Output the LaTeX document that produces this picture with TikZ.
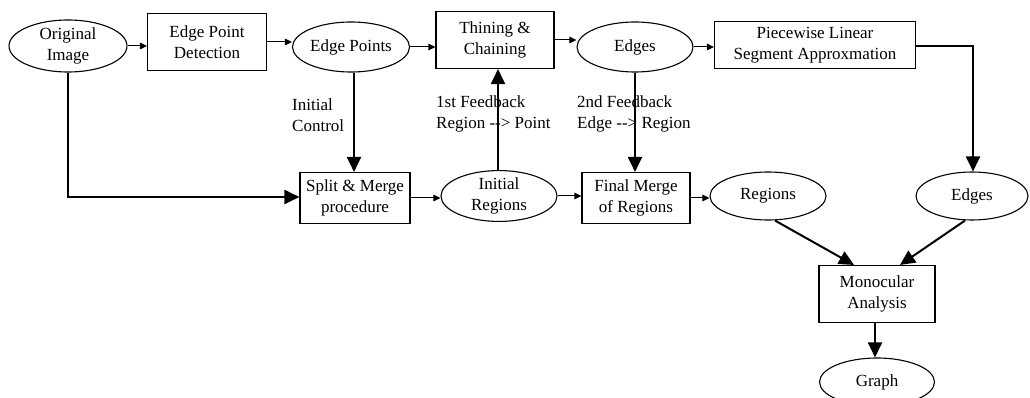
\documentclass[tikz,border=0pt]{standalone}
\usepackage{fontspec}
\setmainfont{Liberation Serif}
\usetikzlibrary{shapes.geometric,arrows.meta}
\tikzset{
  base/.style={draw, line width=1.1pt, inner sep=0pt, align=center,
    font=\fontsize{17}{20.5}\selectfont},
  proc/.style={base, rectangle},
  data/.style={base, ellipse},
  thinarrow/.style={line width=1pt, -{Triangle[length=7pt,width=6.5pt]}},
  thickarrow/.style={line width=2pt, -{Triangle[length=15pt,width=14pt]}},
  note/.style={anchor=west, align=left, inner sep=0pt,
    font=\fontsize{17}{20.5}\selectfont},
}
\begin{document}
\begin{tikzpicture}[x=1pt,y=-1pt]
\useasboundingbox (0,0) rectangle (1030,398);
\clip (0,0) rectangle (1030,398);

% top row
\node[data, minimum width=118pt, minimum height=52pt] (orig) at (68,46) {Original\\Image};
\node[proc, minimum width=119pt, minimum height=57pt] (epd) at (207,42) {Edge Point\\Detection};
\node[data, minimum width=117pt, minimum height=50pt] (ep) at (351,47) {Edge Points};
\node[proc, minimum width=118pt, minimum height=57pt] (thin) at (495,40) {Thining \&\\Chaining};
\node[data, minimum width=116pt, minimum height=50pt] (e1) at (635,47) {Edges};
\node[proc, minimum width=201pt, minimum height=47pt] (pw) at (815,45) {Piecewise Linear\\Segment Approxmation};

% middle row
\node[proc, minimum width=110pt, minimum height=51pt] (split) at (355,198) {Split \& Merge\\procedure};
\node[data, minimum width=116pt, minimum height=48pt] (ir) at (499,196) {Initial\\Regions};
\node[proc, minimum width=108pt, minimum height=51pt] (fm) at (636,198) {Final Merge\\of Regions};
\node[data, minimum width=116pt, minimum height=48pt] (reg) at (768,196) {Regions};
\node[data, minimum width=112pt, minimum height=48pt] (e2) at (972,196) {Edges};

% bottom
\node[proc, minimum width=116pt, minimum height=57pt] (mono) at (877,294) {Monocular\\Analysis};
\node[data, minimum width=115pt, minimum height=48pt] (graph) at (877,382) {Graph};

% side notes
\node[note] (n1) at (292,115) {Initial\\Control};
\node[note] (n2) at (436,114) {1st Feedback\\Region {-}{-}> Point};
\node[note] (n3) at (577,114) {2nd Feedback\\Edge {-}{-}> Region};

% thin flow arrows
\draw[thinarrow] (orig.east) -- (orig.east -| epd.west);
\draw[thinarrow] (epd.east) -- (epd.east -| ep.west);
\draw[thinarrow] (ep.east) -- (ep.east -| thin.west);
\draw[thinarrow] (thin.east) -- (thin.east -| e1.west);
\draw[thinarrow] (e1.east) -- (e1.east -| pw.west);
\draw[thinarrow] (split.east) -- (split.east -| ir.west);
\draw[thinarrow] (ir.east) -- (ir.east -| fm.west);
\draw[thinarrow] (fm.east) -- (fm.east -| reg.west);

% thick control arrows
\draw[thickarrow] (orig.south) |- ([yshift=1pt]split.west);
\draw[thickarrow] ([xshift=-1pt]split.north |- ep.south) -- ([xshift=-1pt]split.north);
\draw[thickarrow] ([xshift=-1pt]ir.north) -- ([xshift=-1pt]ir.north |- thin.south);
\draw[thickarrow] (e1.south) -- (e1.south |- fm.north);
\draw[thickarrow] ([yshift=-1pt]pw.east) -| ([xshift=1pt]e2.north);
\draw[thickarrow] ([xshift=7pt]reg.south) -- ([xshift=-23pt]mono.north);
\draw[thickarrow] ([xshift=-7pt]e2.south) -- ([xshift=23pt]mono.north);
\draw[thickarrow] ([xshift=-2pt]mono.south) -- ([xshift=-2pt]graph.north);
\end{tikzpicture}
\end{document}
